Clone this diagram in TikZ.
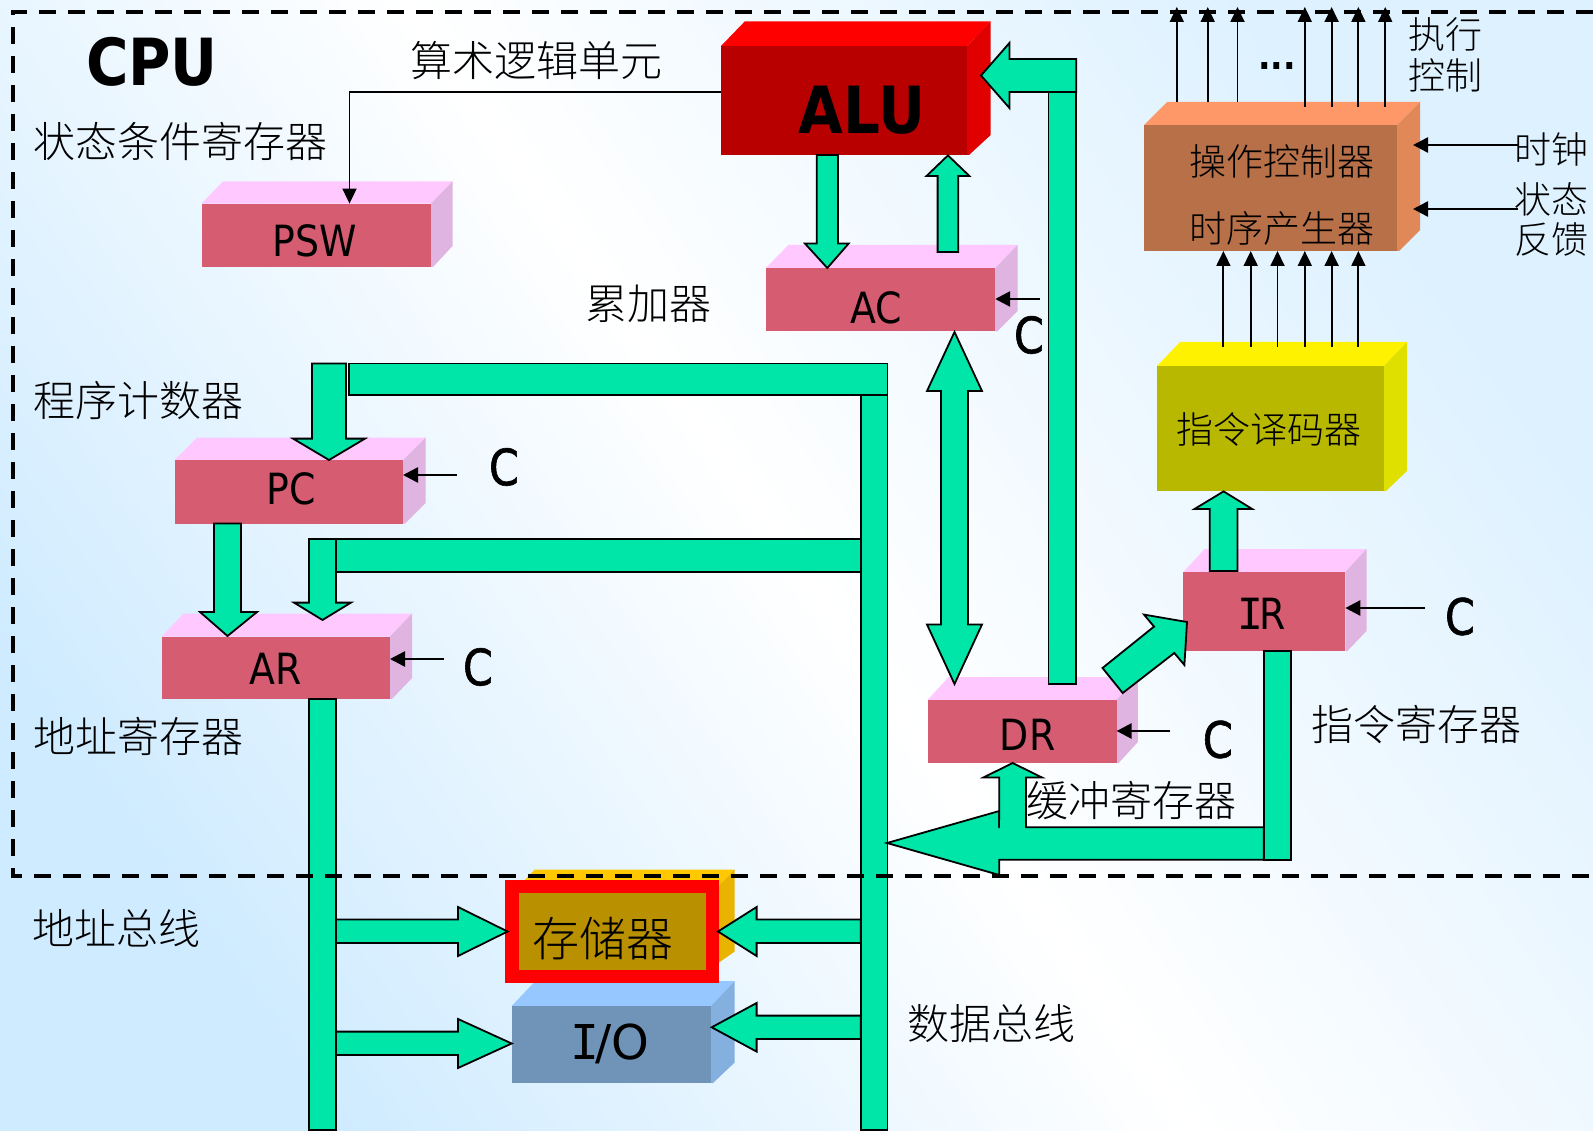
\documentclass[tikz,border=0pt]{standalone}
\usepackage{fontspec}
\usepackage{tikz}
\usetikzlibrary{arrows.meta,calc}
\newfontfamily\cjk{Noto Sans CJK SC Light}
\newfontfamily\lat[FakeStretch=0.88]{DejaVu Sans}
\newfontfamily\lati{DejaVu Sans}
\newfontfamily\latm{DejaVu Sans Mono}
\newfontfamily\latc[FakeStretch=0.86,FakeBold=1.2]{DejaVu Sans}
\newfontfamily\latb[FakeStretch=0.89]{DejaVu Sans Bold}
\newcommand\serI{\makebox[.42em]{\latm I}}
\definecolor{busgreen}{HTML}{00E5A8}
\definecolor{regfront}{HTML}{D65C72}
\definecolor{regtop}{HTML}{FFC8FF}
\definecolor{regside}{HTML}{E0B4E0}
\definecolor{alufront}{HTML}{B80000}
\definecolor{aluside}{HTML}{E00000}
\definecolor{cufront}{HTML}{B87048}
\definecolor{cutop}{HTML}{FF9868}
\definecolor{cuside}{HTML}{E08858}
\definecolor{decfront}{HTML}{B8B800}
\definecolor{decside}{HTML}{E0E000}
\definecolor{iofront}{HTML}{7094B8}
\definecolor{iotop}{HTML}{96C8FF}
\definecolor{ioside}{HTML}{84B0E0}
\definecolor{memfront}{HTML}{B89000}
\definecolor{memtop}{HTML}{FFC800}
\definecolor{memside}{HTML}{E8B400}
\definecolor{bgbl}{HTML}{CFEBFF}
\definecolor{bgtr}{HTML}{DDF1FF}
\tikzset{
  bus/.style={fill=busgreen,draw=black,line width=1.8pt,line join=miter},
  sig/.style={draw=black,line width=2.6pt,-{Triangle[length=15pt,width=15pt]}},
  sigthin/.style={draw=black,line width=1.9pt,-{Triangle[length=15pt,width=14pt]}},
  front/.style={inner sep=0pt,outer sep=0pt},
  zh/.style={inner sep=0pt,font=\cjk\fontsize{42}{42}\selectfont},
  zhs/.style={inner sep=0pt,font=\cjk\fontsize{37}{37}\selectfont},
  reglabel/.style={inner sep=0pt,font=\lat\fontsize{43}{43}\selectfont},
  clabel/.style={inner sep=0pt,font=\latc\fontsize{50}{50}\selectfont},
  biglabel/.style={inner sep=0pt,font=\latb\fontsize{65}{65}\selectfont},
  border/.style={draw=black,line width=4pt,dash pattern=on 17pt off 12pt},
}
\newcommand\colours[3]{\def\bfr{#1}\def\btp{#2}\def\bsd{#3}}
% name x1 y1 x2 y2 xr yt ysb: front face, back right x, back top y, side bottom y
\newcommand\threed[8]{%
  \pgfmathsetmacro\bdx{#6-#4}%
  \fill[\btp] (#2,#3) -- ({#2+\bdx},#7) -- (#6,#7) -- (#4,#3) -- cycle;
  \fill[\bsd] (#4,#3) -- (#6,#7) -- (#6,#8) -- ({#4+2},#5) -- (#4,#5) -- cycle;
  \node[front,fill=\bfr,minimum width={(#4-#2)*1pt},minimum height={(#5-#3)*1pt}]
    (#1) at ({(#2+#4)/2},{(#3+#5)/2}) {};
}
% vertical block arrow: xl xr ystart yhead ytip wingL wingR
\newcommand\blockv[7]{\filldraw[bus] (#1,#3) -- (#1,#4) -- (#6,#4) -- ({(#1+#2)/2},#5) -- (#7,#4) -- (#2,#4) -- (#2,#3) -- cycle;}
% horizontal block arrow: yt yb xstart xhead xtip wingT wingB
\newcommand\blockh[7]{\filldraw[bus] (#3,#1) -- (#4,#1) -- (#4,#6) -- (#5,{(#6+#7)/2}) -- (#4,#7) -- (#4,#2) -- (#3,#2) -- cycle;}
\begin{document}
\begin{tikzpicture}[x=1pt,y=-1pt]
\useasboundingbox (0,0) rectangle (1593,1131);
\shade[bottom color=bgbl,top color=bgtr,middle color=white,shading angle=-55] (0,0) rectangle (1593,1131);

% registers and units
\colours{regfront}{regtop}{regside}
\threed{PSW}{201.5}{203.6}{431}{267}{452.5}{181.4}{246}
\threed{PC}{174.5}{460}{403}{523.5}{425.5}{437.5}{503}
\threed{AR}{161.7}{636.5}{390}{699}{412}{613.5}{678}
\threed{AC}{766}{268}{995.2}{331.4}{1017.5}{245}{311}
\threed{DR}{927.5}{700}{1116.6}{763}{1137.9}{677}{742}
\threed{IR}{1183.4}{572}{1345.3}{651}{1366.5}{549}{631}
\colours{alufront}{red}{aluside}
\threed{ALU}{721}{46}{967}{155}{990.7}{21.5}{135}
\colours{cufront}{cutop}{cuside}
\threed{CU}{1144}{125}{1397}{251}{1420}{102}{230}
\colours{decfront}{yellow}{decside}
\threed{DEC}{1157}{366}{1384}{491}{1407}{342}{471}
\colours{iofront}{iotop}{ioside}
\threed{IO}{511.7}{1006}{711}{1083}{734.7}{981}{1062.5}
\colours{memfront}{memtop}{memside}
\threed{MEMB}{512}{893}{712}{966}{734.7}{869.5}{951.5}
\node[front,fill=memfront,draw=red,line width=13.5pt,minimum width=200.5pt,minimum height=90pt] (MEM) at (612.2,931.5) {};

% thin connectors
\coordinate (alutap) at (ALU.west |- 0,92);
\coordinate (pswin) at (349.5,203.6);
\draw[sigthin] (alutap) -| (pswin);
\coordinate (cpc) at (457,475);
\draw[sig] (cpc) -- (cpc -| PC.east);
\coordinate (car) at (444,659);
\draw[sig] (car) -- (car -| AR.east);
\coordinate (cac) at (1040.3,299);
\draw[sig] (cac) -- (cac -| AC.east);
\coordinate (cdr) at (1170.3,731);
\draw[sig] (cdr) -- (cdr -| DR.east);
\coordinate (cir) at (1425.2,608);
\draw[sig] (cir) -- (cir -| IR.east);
\coordinate (clk) at (1518.3,145);
\coordinate (clkin) at (1413,145);
\draw[sig] (clk) -- (clkin);
\coordinate (fb) at (1518.3,209);
\coordinate (fbin) at (1413,209);
\draw[sig] (fb) -- (fbin);
\coordinate (cuouta) at (0,102);
\coordinate (cuoutb) at (0,107);
\coordinate (exectop) at (0,7);
\foreach \x in {1176.8,1207.7,1237.5} \draw[sigthin] (\x,0 |- cuouta) -- (\x,0 |- exectop);
\foreach \x in {1304.8,1331.6,1358.4,1385.2} \draw[sigthin] (\x,0 |- cuoutb) -- (\x,0 |- exectop);
\coordinate (dectop) at (0,347);
\foreach \x in {1223.4,1250.7,1277.5,1304.8,1331.6,1358.4} \draw[sigthin] (\x,0 |- dectop) -- (\x,0 |- CU.south);

% block connectors
\filldraw[bus] (349,363.5) rectangle (887.5,395);
\filldraw[bus] (860.7,395) rectangle (887.5,1130);
\filldraw[bus] (336,539) rectangle (860.7,571.6);
\filldraw[bus] (309,699) rectangle (336,1130);
\blockv{312}{346}{363.5}{438.6}{460}{293}{365}
\blockv{214}{241}{523.5}{612}{636}{200}{257}
\blockv{309}{336}{539}{602.6}{620}{294}{351}
\blockv{816.7}{837.9}{155}{243.6}{268}{805}{848.6}
\blockv{937.6}{958.3}{252}{176}{155.4}{926.5}{969.4}
\blockv{1209.7}{1237.5}{571}{509}{491.4}{1194.5}{1252.2}
\filldraw[bus] (941,391) -- (927,391) -- (954.5,332) -- (982,391) -- (968,391) -- (968,624.5) -- (982,624.5) -- (954.5,684) -- (927,624.5) -- (941,624.5) -- cycle;
\filldraw[bus] (1048.4,92) rectangle (1076.2,684);
\blockh{59}{92}{1076.2}{1009.4}{981}{43}{108}
\blockh{919.4}{943}{336}{458}{507.6}{907}{956}
\blockh{1031.6}{1055}{336}{458}{511.7}{1019}{1068}
\blockh{919.4}{943}{860.7}{756.6}{718}{907}{956}
\blockh{1015.6}{1039}{860.7}{756.6}{711.7}{1003}{1051.6}
\filldraw[bus] (1102.5,668) -- (1122.7,693) -- (1174.3,653) -- (1184.4,665) -- (1187,622) -- (1144,614.6) -- (1154,626.6) -- cycle;
\filldraw[bus] (1263.8,651) rectangle (1291.2,859.7);
\blockh{827.3}{859.7}{1263.8}{999.3}{887}{811}{875}
\filldraw[bus] (999.3,827.3) -- (999.3,777.4) -- (983.6,777.4) -- (1012.6,763) -- (1041.8,777.4) -- (1026,777.4) -- (1026,827.3);
\fill[busgreen] (1000.2,820) rectangle (1025.1,829);

% labels
\node[biglabel] (cputxt) at (152,62) {CPU};
\node[biglabel] (alutxt) at (862,110) {ALU};
\node[reglabel] (psw) at (315,241) {PSW};
\node[reglabel] (pc) at (291,489) {PC};
\node[reglabel] (ar) at (275.5,669) {AR};
\node[reglabel] (ac) at (875.9,308) {AC};
\node[reglabel] (dr) at (1027.6,735) {DR};
\node[reglabel] (ir) at (1263.3,613.5) {\serI R};
\node[clabel] (cc1) at (504,467) {C};
\node[clabel] (cc2) at (478,667) {C};
\node[clabel] (cc3) at (1029,335) {C};
\node[clabel] (cc4) at (1217.8,739.5) {C};
\node[clabel] (cc5) at (1460,616.5) {C};
\node[inner sep=0pt,font=\lati\fontsize{48}{48}\selectfont] (iot) at (612,1044) {\serI/O};
\node[inner sep=0pt,font=\cjk\fontsize{47}{47}\selectfont] (memt) at (603,939) {存储器};
\node[zh] (l1) at (536.5,61) {算术逻辑单元};
\node[zh] (l2) at (180.5,141) {状态条件寄存器};
\node[zh] (l3) at (648.5,304) {累加器};
\node[zh] (l4) at (138,401) {程序计数器};
\node[zh] (l5) at (138,736.6) {地址寄存器};
\node[zh] (l6) at (116,928) {地址总线};
\node[zh] (l7) at (991.5,1024) {数据总线};
\node[zh] (l8) at (1131.8,800) {缓冲寄存器};
\node[zh] (l9) at (1416.3,724) {指令寄存器};
\node[zhs] (l10) at (1282.3,161) {操作控制器};
\node[zhs] (l11) at (1282.3,228.6) {时序产生器};
\node[zhs] (l12) at (1269.4,429.6) {指令译码器};
\node[zhs] (l13) at (1445,34) {执行};
\node[zhs] (l14) at (1445,75) {控制};
\node[zhs] (l15) at (1551,149) {时钟};
\node[zhs] (l16) at (1551,199) {状态};
\node[zhs] (l17) at (1551,240) {反馈};
\node[inner sep=0pt,anchor=base,font=\latb\fontsize{37}{37}\selectfont] (dots) at (1277,70) {...};

% CPU boundary
\coordinate (cpuTR) at (1593,12);
\coordinate (cpuTL) at (13,12);
\coordinate (cpuBL) at (13,875.5);
\coordinate (cpuBR) at (1593,875.5);
\draw[border] (cpuTR) -- (cpuTL) -- (cpuBL) -- (cpuBR);
\end{tikzpicture}
\end{document}
